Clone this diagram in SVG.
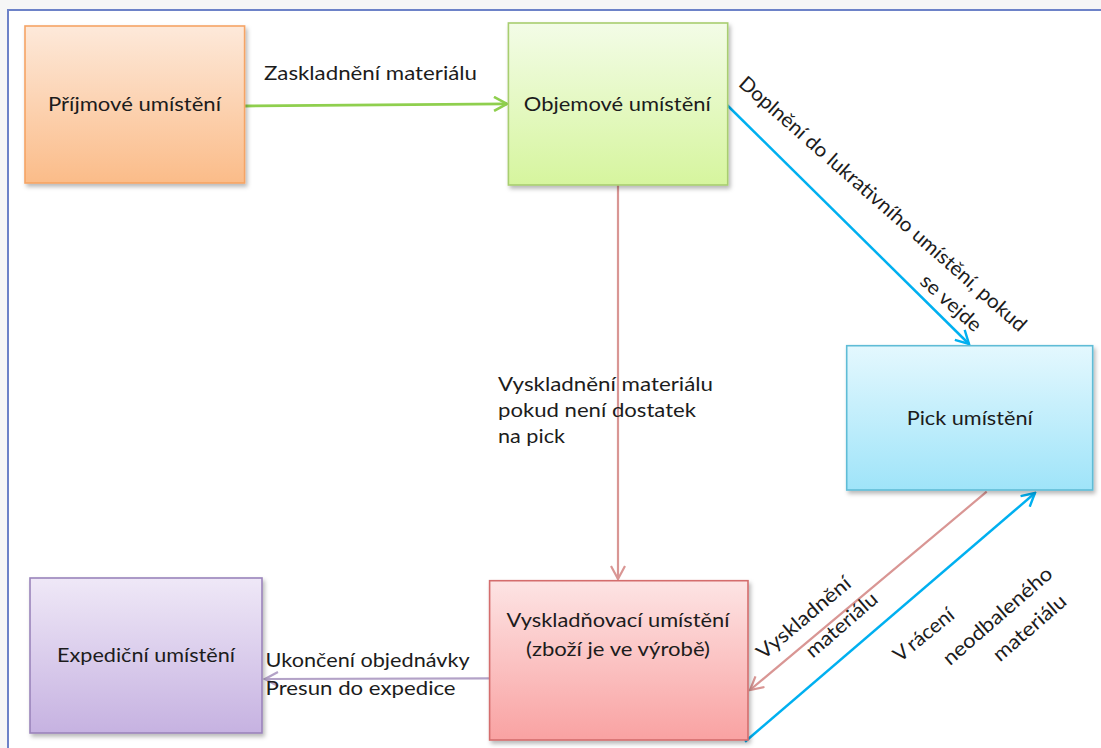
<svg xmlns="http://www.w3.org/2000/svg" width="1101" height="748" viewBox="0 0 1101 748">
  <defs>
    <style>
      .lbl { font-family: Lato, "Liberation Sans", sans-serif; font-size: 20px; fill: #1c1c1c; }
      .mid { text-anchor: middle; }
      .box { stroke-width: 1.6; filter: url(#sh); }
      .con { fill: none; }
    </style>
    <filter id="sh" x="-10%" y="-10%" width="125%" height="125%">
      <feDropShadow dx="2" dy="3" stdDeviation="2" flood-color="#000" flood-opacity="0.28"/>
    </filter>
    <linearGradient id="gOr" x1="0" y1="0" x2="0" y2="1"><stop offset="0" stop-color="#fde9da"/><stop offset="1" stop-color="#fbbc89"/></linearGradient>
    <linearGradient id="gGr" x1="0" y1="0" x2="0" y2="1"><stop offset="0" stop-color="#f3fce7"/><stop offset="1" stop-color="#d6f59e"/></linearGradient>
    <linearGradient id="gBl" x1="0" y1="0" x2="0" y2="1"><stop offset="0" stop-color="#e4f8fe"/><stop offset="1" stop-color="#9fe4f9"/></linearGradient>
    <linearGradient id="gRd" x1="0" y1="0" x2="0" y2="1"><stop offset="0" stop-color="#fde4e4"/><stop offset="1" stop-color="#f9a2a2"/></linearGradient>
    <linearGradient id="gPu" x1="0" y1="0" x2="0" y2="1"><stop offset="0" stop-color="#efe8f7"/><stop offset="1" stop-color="#c6b2e1"/></linearGradient>
    <marker id="aGreen" viewBox="0 0 16 16" refX="14" refY="8" markerWidth="16" markerHeight="16" markerUnits="userSpaceOnUse" orient="auto"><path d="M1,1 L14,8 L1,15" fill="none" stroke="#8fcf4e" stroke-width="2.6"/></marker>
    <marker id="aPink" viewBox="0 0 16 16" refX="14" refY="8" markerWidth="16" markerHeight="16" markerUnits="userSpaceOnUse" orient="auto"><path d="M1,1 L14,8 L1,15" fill="none" stroke="#d99694" stroke-width="2.2"/></marker>
    <marker id="aBlue" viewBox="0 0 16 16" refX="14" refY="8" markerWidth="16" markerHeight="16" markerUnits="userSpaceOnUse" orient="auto"><path d="M1,1 L14,8 L1,15" fill="none" stroke="#00b0f0" stroke-width="2.4"/></marker>
    <marker id="aPurple" viewBox="0 0 16 16" refX="14" refY="8" markerWidth="16" markerHeight="16" markerUnits="userSpaceOnUse" orient="auto"><path d="M1,1 L14,8 L1,15" fill="none" stroke="#b3a2c7" stroke-width="2.2"/></marker>
  </defs>

  <rect x="0" y="0" width="1101" height="748" fill="#f6f6f6"/>
  <rect x="8" y="10" width="1100" height="745" fill="#ffffff" stroke="#6d82c8" stroke-width="2"/>

  <g id="connectors">
    <path class="con" d="M244.6,106 L507,103.8" stroke="#8fcf4e" stroke-width="2.8" marker-end="url(#aGreen)"/>
    <path class="con" d="M618,185 L618,579" stroke="#d99694" stroke-width="2.2" marker-end="url(#aPink)"/>
    <path class="con" d="M726,104 L969,344" stroke="#00b0f0" stroke-width="2.5" marker-end="url(#aBlue)"/>
    <path class="con" d="M489.5,678.3 L265,679" stroke="#b3a2c7" stroke-width="2.2" marker-end="url(#aPurple)"/>
    <path class="con" d="M986.7,491.7 L750,690" stroke="#d99694" stroke-width="2.2" marker-end="url(#aPink)"/>
    <path class="con" d="M745,741.7 L1035,493" stroke="#00b0f0" stroke-width="2.5" marker-end="url(#aBlue)"/>
    <text class="lbl" x="264" y="79.5" textLength="213" lengthAdjust="spacingAndGlyphs">Zaskladnění materiálu</text>
    <text class="lbl" x="498" y="391" textLength="215" lengthAdjust="spacingAndGlyphs">Vyskladnění materiálu</text>
    <text class="lbl" x="498" y="417" textLength="198" lengthAdjust="spacingAndGlyphs">pokud není dostatek</text>
    <text class="lbl" x="498" y="443" textLength="67" lengthAdjust="spacingAndGlyphs">na pick</text>
    <text class="lbl" x="265.6" y="667" textLength="204" lengthAdjust="spacingAndGlyphs">Ukončení objednávky</text>
    <text class="lbl" x="265.6" y="695" textLength="190" lengthAdjust="spacingAndGlyphs">Presun do expedice</text>
    <text class="lbl mid" transform="translate(878.4,209) rotate(41.3)" textLength="375" lengthAdjust="spacingAndGlyphs">Doplnění do lukrativního umístění, pokud</text>
    <text class="lbl mid" transform="translate(946.5,308) rotate(42)" textLength="75" lengthAdjust="spacingAndGlyphs">se vejde</text>
    <text class="lbl mid" transform="translate(808,623) rotate(-40)" textLength="116" lengthAdjust="spacingAndGlyphs">Vyskladnění</text>
    <text class="lbl mid" transform="translate(846,630) rotate(-41)" textLength="88" lengthAdjust="spacingAndGlyphs">materiálu</text>
    <text class="lbl mid" transform="translate(928,640) rotate(-39)" textLength="72" lengthAdjust="spacingAndGlyphs">V<tspan dx="4">rácení</tspan></text>
    <text class="lbl mid" transform="translate(1002,621) rotate(-41)" textLength="138" lengthAdjust="spacingAndGlyphs">neodbaleného</text>
    <text class="lbl mid" transform="translate(1034,633) rotate(-41)" textLength="90" lengthAdjust="spacingAndGlyphs">materiálu</text>
  </g>

  <g id="prijmove">
    <rect class="box" x="25" y="26" width="219.6" height="157" fill="url(#gOr)" stroke="#f5a465"/>
    <text class="lbl mid" x="134.5" y="111" textLength="173" lengthAdjust="spacingAndGlyphs">Příjmové umístění</text>
  </g>
  <g id="objemove">
    <rect class="box" x="508.4" y="23" width="219.3" height="162" fill="url(#gGr)" stroke="#a8ce70"/>
    <text class="lbl mid" x="617.3" y="111" textLength="187" lengthAdjust="spacingAndGlyphs">Objemové umístění</text>
  </g>
  <g id="pick">
    <rect class="box" x="846.7" y="345.7" width="246" height="144.3" fill="url(#gBl)" stroke="#5fbcd6"/>
    <text class="lbl mid" x="969.7" y="425" textLength="126" lengthAdjust="spacingAndGlyphs">Pick umístění</text>
  </g>
  <g id="vyskladnovaci">
    <rect class="box" x="489.6" y="580.7" width="258.4" height="159.3" fill="url(#gRd)" stroke="#d46d6d"/>
    <text class="lbl mid" x="618" y="627" textLength="223" lengthAdjust="spacingAndGlyphs">Vyskladňovací umístění</text>
    <text class="lbl mid" x="618" y="656" textLength="184" lengthAdjust="spacingAndGlyphs">(zboží je ve výrobě)</text>
  </g>
  <g id="expedicni">
    <rect class="box" x="30" y="578" width="232" height="155" fill="url(#gPu)" stroke="#9a84bb"/>
    <text class="lbl mid" x="146" y="662" textLength="178" lengthAdjust="spacingAndGlyphs">Expediční umístění</text>
  </g>
</svg>
